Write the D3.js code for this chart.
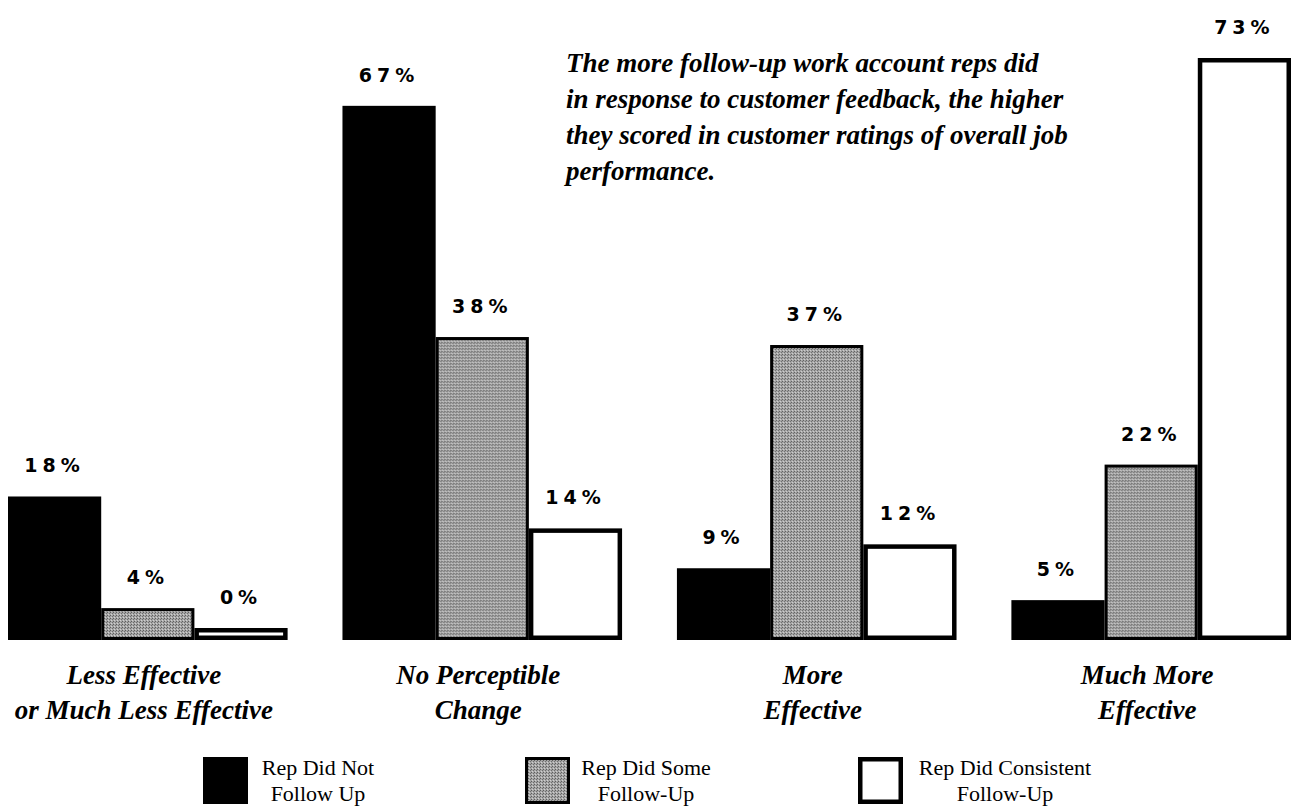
<!DOCTYPE html>
<html>
<head>
<meta charset="utf-8">
<script src="https://cdn.jsdelivr.net/npm/d3@7"></script>
<style>
  body { margin: 0; background: #fff; }
  svg { display: block; }
</style>
</head>
<body>
<svg id="chart"></svg>
<script>
// Données du graphique
const categories = [
  ["Less Effective", "or Much Less Effective"],
  ["No Perceptible", "Change"],
  ["More", "Effective"],
  ["Much More", "Effective"]
];
const series = ["Rep Did Not Follow Up", "Rep Did Some Follow-Up", "Rep Did Consistent Follow-Up"];
const legendLines = [["Rep Did Not", "Follow Up"], ["Rep Did Some", "Follow-Up"], ["Rep Did Consistent", "Follow-Up"]];
const notFollow  = [18, 67, 9, 5];
const someFollow = [4, 38, 37, 22];
const consistent = [0, 14, 12, 73];
const note = [
  "The more follow-up work account reps did",
  "in response to customer feedback, the higher",
  "they scored in customer ratings of overall job",
  "performance."
];

const width = 1293, height = 807;
const baseline = 640;

const svg = d3.select("#chart")
    .attr("width", width)
    .attr("height", height);

// Motif gris tramé
const defs = svg.append("defs");
const pat = defs.append("pattern")
    .attr("id", "grain")
    .attr("width", 3).attr("height", 3)
    .attr("patternUnits", "userSpaceOnUse");
pat.append("rect").attr("width", 3).attr("height", 3).attr("fill", "#a6a6a6");
pat.append("rect").attr("x", 0).attr("y", 0).attr("width", 1).attr("height", 1).attr("fill", "#5e5e5e");
pat.append("rect").attr("x", 2).attr("y", 1).attr("width", 1).attr("height", 1).attr("fill", "#6e6e6e");
pat.append("rect").attr("x", 1).attr("y", 2).attr("width", 1).attr("height", 1).attr("fill", "#d0d0d0");

const styles = [
  { fill: "#000", stroke: "#000", sw: 0 },
  { fill: "url(#grain)", stroke: "#000", sw: 3 },
  { fill: "#fff", stroke: "#000", sw: 4.5 }
];

// Échelles
const x0 = d3.scaleBand()
    .domain(d3.range(categories.length))
    .range([8, 1291])
    .paddingInner(0.164)
    .paddingOuter(0);

const x1 = d3.scaleBand()
    .domain(d3.range(series.length))
    .range([0, x0.bandwidth()]);

const y = d3.scaleLinear()
    .domain([0, 73])
    .range([baseline, baseline - 582]);

const rows = categories.map((c, i) => ({
  i,
  values: [notFollow[i], someFollow[i], consistent[i]]
}));

const minH = 12;

const groups = svg.selectAll("g.group")
    .data(rows)
    .enter()
    .append("g")
    .attr("class", "group")
    .attr("transform", d => `translate(${x0(d.i)},0)`);

groups.selectAll("rect")
    .data(d => d.values.map((v, s) => ({ v, s })))
    .enter()
    .append("rect")
    .attr("x", d => x1(d.s) + styles[d.s].sw / 2)
    .attr("width", d => x1.bandwidth() - styles[d.s].sw)
    .attr("y", d => Math.min(y(d.v), baseline - minH) + styles[d.s].sw / 2)
    .attr("height", d => Math.max(baseline - y(d.v), minH) - styles[d.s].sw)
    .attr("fill", d => styles[d.s].fill)
    .attr("stroke", d => styles[d.s].stroke)
    .attr("stroke-width", d => styles[d.s].sw);

groups.selectAll("text.val")
    .data(d => d.values.map((v, s) => ({ v, s })))
    .enter()
    .append("text")
    .attr("class", "val")
    .attr("x", d => x1(d.s) + x1.bandwidth() / 2)
    .attr("y", d => Math.min(y(d.v), baseline - minH) - 24)
    .attr("text-anchor", "middle")
    .attr("font-family", "DejaVu Sans")
    .attr("font-weight", "bold")
    .attr("font-size", 19)
    .attr("letter-spacing", 5)
    .text(d => d.v + "%");

// Libellés des catégories
groups.append("text")
    .attr("text-anchor", "middle")
    .attr("font-family", "Liberation Serif")
    .attr("font-style", "italic")
    .attr("font-weight", "bold")
    .attr("font-size", 27)
    .selectAll("tspan")
    .data(d => categories[d.i])
    .enter()
    .append("tspan")
    .attr("x", x0.bandwidth() / 2 - 4)
    .attr("y", (d, k) => 684 + k * 35)
    .text(d => d);

// Note en italique
svg.append("text")
    .attr("font-family", "Liberation Serif")
    .attr("font-style", "italic")
    .attr("font-weight", "bold")
    .attr("font-size", 27)
    .selectAll("tspan")
    .data(note)
    .enter()
    .append("tspan")
    .attr("x", 566)
    .attr("y", (d, k) => 72 + k * 36)
    .text(d => d);

// Légende
const legendX = [203, 525, 858];
const legendTextX = [115, 121, 147];
const legend = svg.selectAll("g.legend")
    .data(series)
    .enter()
    .append("g")
    .attr("class", "legend")
    .attr("transform", (d, i) => `translate(${legendX[i]},757)`);

legend.append("rect")
    .attr("x", (d, i) => styles[i].sw / 2)
    .attr("y", (d, i) => styles[i].sw / 2)
    .attr("width", (d, i) => 45 - styles[i].sw)
    .attr("height", (d, i) => 47 - styles[i].sw)
    .attr("fill", (d, i) => styles[i].fill)
    .attr("stroke", "#000")
    .attr("stroke-width", (d, i) => styles[i].sw);

legend.append("text")
    .attr("text-anchor", "middle")
    .attr("font-family", "Liberation Serif")
    .attr("font-size", 22)
    .attr("x", (d, i) => legendTextX[i])
    .selectAll("tspan")
    .data((d, i) => legendLines[i])
    .enter()
    .append("tspan")
    .attr("x", function () { return d3.select(this.parentNode).attr("x"); })
    .attr("y", (d, k) => 18 + k * 26)
    .text(d => d);
</script>
</body>
</html>
